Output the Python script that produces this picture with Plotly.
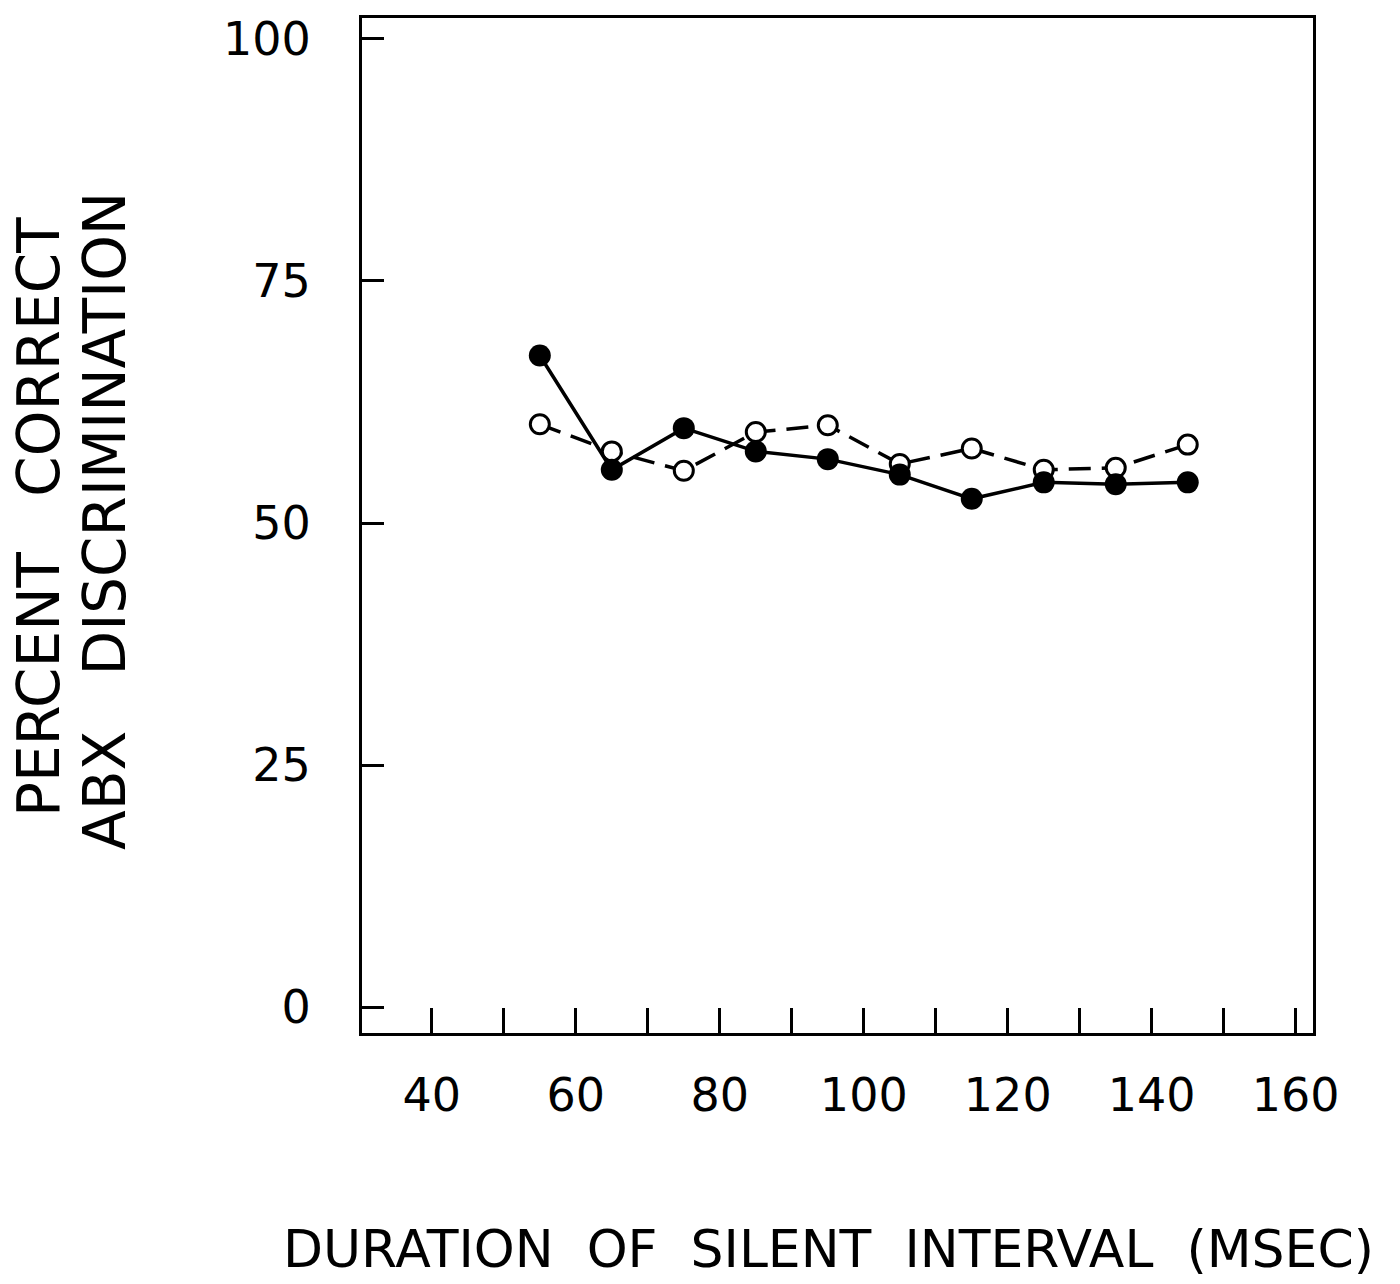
import plotly.graph_objects as go

# Data
durations = [55, 65, 75, 85, 95, 105, 115, 125, 135, 145]
filled_pct = [67.3, 55.5, 59.8, 57.4, 56.6, 55.0, 52.5, 54.2, 54.0, 54.2]
open_pct = [60.2, 57.4, 55.4, 59.4, 60.1, 56.1, 57.7, 55.5, 55.7, 58.1]

x_tickvals = [40, 50, 60, 70, 80, 90, 100, 110, 120, 130, 140, 150, 160]
x_ticktext = ["40", "", "60", "", "80", "", "100", "", "120", "", "140", "", "160"]
y_tickvals = [0, 25, 50, 75, 100]
y_ticktext = ["0", "25", "50", "75", "100"]

x_title = "DURATION\u00a0\u00a0OF\u00a0\u00a0SILENT\u00a0\u00a0INTERVAL\u00a0\u00a0(MSEC)"
y_title_1 = "PERCENT\u00a0\u00a0\u00a0CORRECT"
y_title_2 = "ABX\u00a0\u00a0\u00a0DISCRIMINATION"

FONT = "DejaVu Sans"

fig = go.Figure()
fig.add_trace(go.Scatter(
    x=durations, y=open_pct, mode="lines+markers",
    line=dict(color="black", width=3.5, dash="22px,11px"),
    marker=dict(symbol="circle", size=19, color="white",
                line=dict(color="black", width=3)),
    showlegend=False,
))
fig.add_trace(go.Scatter(
    x=durations, y=filled_pct, mode="lines+markers",
    line=dict(color="black", width=3.5),
    marker=dict(symbol="circle", size=22, color="black"),
    showlegend=False,
))

fig.update_layout(
    width=1400, height=1284,
    margin=dict(l=362, r=87, t=14, b=251),
    paper_bgcolor="white", plot_bgcolor="white",
    font=dict(family=FONT, color="black"),
    xaxis=dict(
        range=[30.3, 162.4], tickmode="array", tickvals=x_tickvals, ticktext=x_ticktext,
        ticks="inside", ticklen=25, tickwidth=3, tickcolor="black",
        showline=True, linewidth=3, linecolor="black", mirror=True,
        showgrid=False, zeroline=False,
        tickfont=dict(size=46, family=FONT, color="black"),
        ticklabelstandoff=20,
    ),
    yaxis=dict(
        range=[-2.67, 102.16], tickmode="array", tickvals=y_tickvals, ticktext=y_ticktext,
        ticks="inside", ticklen=22, tickwidth=3, tickcolor="black",
        showline=True, linewidth=3, linecolor="black", mirror=True,
        showgrid=False, zeroline=False,
        tickfont=dict(size=46, family=FONT, color="black"),
        ticklabelstandoff=39,
    ),
    annotations=[
        dict(text=x_title, xref="paper", yref="paper", x=(828 - 362) / 951, y=(1033 - 1250) / 1019,
             xanchor="center", yanchor="middle", showarrow=False,
             font=dict(size=52, family=FONT, color="black")),
        dict(text=y_title_1, xref="paper", yref="paper", x=(39 - 362) / 951, y=(1033 - 515) / 1019,
             xanchor="center", yanchor="middle", showarrow=False, textangle=-90,
             font=dict(size=58, family=FONT, color="black")),
        dict(text=y_title_2, xref="paper", yref="paper", x=(105 - 362) / 951, y=(1033 - 519) / 1019,
             xanchor="center", yanchor="middle", showarrow=False, textangle=-90,
             font=dict(size=58, family=FONT, color="black")),
    ],
)

fig.write_html("out.html")
